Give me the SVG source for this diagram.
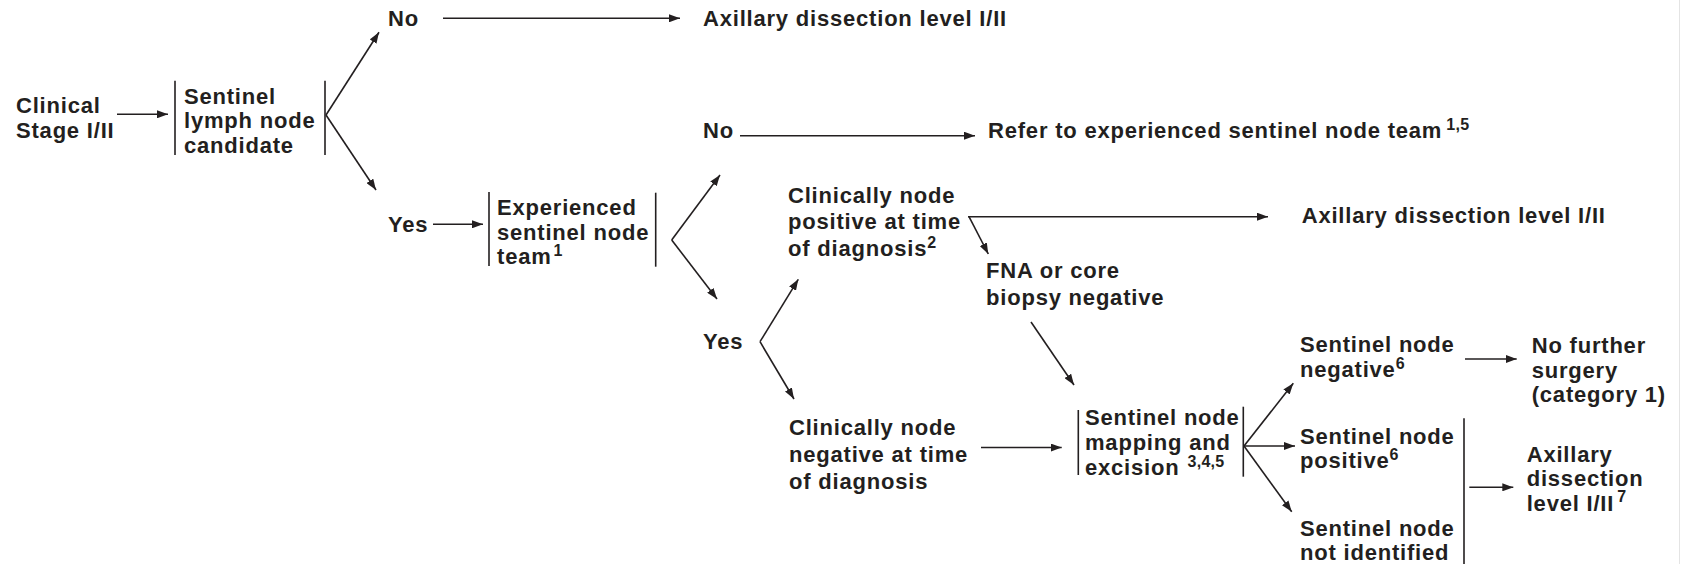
<svg xmlns="http://www.w3.org/2000/svg" width="1682" height="564" viewBox="0 0 1682 564">
<style>
  text { font-family: "Liberation Sans", Arial, sans-serif; font-weight: bold; font-size: 22px; letter-spacing: 0.8px; fill: #231f20; }
  .sup { font-size: 16px; letter-spacing: 0.3px; }
  .bar { stroke: #231f20; stroke-width: 1.6; fill: none; }
  .c { stroke: #231f20; stroke-width: 1.6; fill: none; marker-end: url(#ah); }
  .p { stroke: #231f20; stroke-width: 1.6; fill: none; }
</style>
<defs>
  <marker id="ah" markerUnits="userSpaceOnUse" markerWidth="11" markerHeight="8" refX="11" refY="4" orient="auto">
    <path d="M0,0 L11,4 L0,8 z" fill="#231f20"/>
  </marker>
</defs>
<rect width="1682" height="564" fill="#ffffff"/>
<line x1="1679.5" y1="0" x2="1679.5" y2="564" stroke="#e4e4e4" stroke-width="1"/>

<g id="connectors">
  <line class="c" x1="117" y1="114.3" x2="168" y2="114.3"/>
  <line class="c" x1="326" y1="115" x2="379" y2="32.3"/>
  <line class="c" x1="326" y1="115" x2="376" y2="190"/>
  <line class="c" x1="443" y1="18.3" x2="680" y2="18.3"/>
  <line class="c" x1="433" y1="224.3" x2="483" y2="224.3"/>
  <line class="c" x1="671.7" y1="240" x2="720" y2="175"/>
  <line class="c" x1="671.7" y1="240" x2="717" y2="299"/>
  <line class="c" x1="740" y1="135.7" x2="975" y2="135.7"/>
  <line class="c" x1="968" y1="216.7" x2="1268" y2="216.7"/>
  <line class="c" x1="969" y1="216.7" x2="988.3" y2="254"/>
  <line class="c" x1="1031" y1="322" x2="1074" y2="385"/>
  <line class="c" x1="760" y1="341.7" x2="798.3" y2="279.3"/>
  <line class="c" x1="760" y1="341.7" x2="794" y2="399"/>
  <line class="c" x1="981" y1="447.5" x2="1061.7" y2="447.5"/>
  <line class="c" x1="1244" y1="446" x2="1293.3" y2="383.3"/>
  <line class="c" x1="1244" y1="446" x2="1295" y2="446"/>
  <line class="c" x1="1244" y1="446" x2="1291.7" y2="511.7"/>
  <line class="c" x1="1465" y1="359" x2="1516.7" y2="359"/>
  <line class="p" x1="1464" y1="418.3" x2="1464" y2="564"/>
  <line class="c" x1="1469.3" y1="487.3" x2="1513.3" y2="487.3"/>
</g>

<g id="n-clinical">
  <text x="16" y="113.3">Clinical</text>
  <text x="16" y="137.7">Stage I/II</text>
</g>

<g id="n-candidate">
  <line class="bar" x1="175" y1="80.7" x2="175" y2="155"/>
  <line class="bar" x1="325" y1="80.7" x2="325" y2="155"/>
  <text x="184" y="104">Sentinel</text>
  <text x="184" y="128.3">lymph node</text>
  <text x="184" y="152.7">candidate</text>
</g>

<g id="n-no1"><text x="388" y="25.7">No</text></g>
<g id="n-axillary1"><text x="703" y="26">Axillary dissection level I/II</text></g>
<g id="n-yes1"><text x="388" y="231.7">Yes</text></g>

<g id="n-team">
  <line class="bar" x1="489" y1="192" x2="489" y2="266"/>
  <line class="bar" x1="655.7" y1="192.7" x2="655.7" y2="266.7"/>
  <text x="497" y="215">Experienced</text>
  <text x="497" y="239.5">sentinel node</text>
  <text x="497" y="264">team<tspan class="sup" dx="2" dy="-8">1</tspan></text>
</g>

<g id="n-no2"><text x="703" y="138.3">No</text></g>
<g id="n-refer"><text x="988" y="138.3">Refer to experienced sentinel node team<tspan class="sup" dx="4" dy="-8">1,5</tspan></text></g>

<g id="n-cnpos">
  <text x="788" y="202.5">Clinically node</text>
  <text x="788" y="229.3">positive at time</text>
  <text x="788" y="256">of diagnosis<tspan class="sup" dx="0" dy="-8">2</tspan></text>
</g>

<g id="n-axillary2"><text x="1301.7" y="222.7">Axillary dissection level I/II</text></g>

<g id="n-fna">
  <text x="986" y="278.3">FNA or core</text>
  <text x="986" y="305">biopsy negative</text>
</g>

<g id="n-yes2"><text x="703" y="349.3">Yes</text></g>

<g id="n-cnneg">
  <text x="789" y="435">Clinically node</text>
  <text x="789" y="462">negative at time</text>
  <text x="789" y="489">of diagnosis</text>
</g>

<g id="n-mapping">
  <line class="bar" x1="1078.3" y1="410" x2="1078.3" y2="475"/>
  <line class="bar" x1="1243.3" y1="406.7" x2="1243.3" y2="476.7"/>
  <text x="1085" y="425">Sentinel node</text>
  <text x="1085" y="450">mapping and</text>
  <text x="1085" y="475">excision<tspan class="sup" dx="8" dy="-8">3,4,5</tspan></text>
</g>

<g id="n-snneg">
  <text x="1300" y="351.7">Sentinel node</text>
  <text x="1300" y="376.7">negative<tspan class="sup" dx="0" dy="-8">6</tspan></text>
</g>

<g id="n-snpos">
  <text x="1300" y="444">Sentinel node</text>
  <text x="1300" y="468.3">positive<tspan class="sup" dx="0" dy="-8">6</tspan></text>
</g>

<g id="n-snnot">
  <text x="1300" y="535.5">Sentinel node</text>
  <text x="1300" y="559.5">not identified</text>
</g>

<g id="n-nofurther">
  <text x="1531.7" y="353.3">No further</text>
  <text x="1531.7" y="377.5">surgery</text>
  <text x="1531.7" y="401.7">(category 1)</text>
</g>

<g id="n-axillary3">
  <text x="1526.7" y="461.7">Axillary</text>
  <text x="1526.7" y="486">dissection</text>
  <text x="1526.7" y="510.7">level I/II<tspan class="sup" dx="3" dy="-9">7</tspan></text>
</g>
</svg>
